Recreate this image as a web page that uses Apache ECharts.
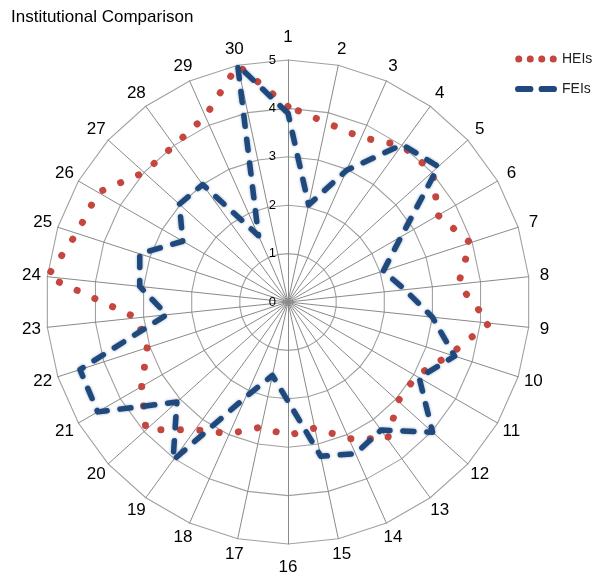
<!DOCTYPE html>
<html>
<head>
<meta charset="utf-8">
<script src="https://cdn.jsdelivr.net/npm/echarts@6/dist/echarts.min.js"></script>
<style>
html,body{margin:0;padding:0;background:#fff;}
#main{width:599px;height:577px;}
</style>
</head>
<body>
<div id="main"></div>
<script>
// Categories (clockwise from top)
var categories = ['1','2','3','4','5','6','7','8','9','10','11','12','13','14','15','16','17','18','19','20','21','22','23','24','25','26','27','28','29','30'];
var radialTicks = ['0','1','2','3','4','5'];
var seriesNames = ['HEIs','FEIs'];
var heis = [4.04,3.79,3.72,4.0,4.02,3.58,3.96,3.54,4.18,3.52,3.06,3.06,3.5,3.09,2.66,2.76,2.64,2.98,3.26,3.95,3.49,3.06,3.14,5.0,4.59,4.53,4.0,4.0,4.2,5.0];
var feis = [3.9,2.05,2.98,4.02,4.18,2.7,2.07,2.43,3.0,3.62,3.13,4.02,3.27,3.43,3.26,2.05,1.55,2.15,4.04,3.09,4.54,4.52,2.52,3.08,3.22,2.51,3.02,3.0,1.5,5.0];

// ECharts radar runs counter-clockwise; reorder so categories appear clockwise
function reorder(arr){ var out=[arr[0]]; for (var i=arr.length-1;i>=1;i--) out.push(arr[i]); return out; }
var catOrd = reorder(categories);
var heiOrd = reorder(heis);
var feiOrd = reorder(feis);

var FONT = 'Liberation Sans, Arial, sans-serif';
var NAME_SIZE = 17;
var CX = 288, CY = 302, R = 242;
var GAP = -40;

// per-label padding so each category label sits centred a fixed distance beyond its spoke end
var measureCtx = document.createElement('canvas').getContext('2d');
measureCtx.font = NAME_SIZE + 'px ' + FONT;
var rich = {};
var keyOf = {};
catOrd.forEach(function(c, i){
  var a = (90 + i * 360 / catOrd.length) * Math.PI / 180;
  var dx = Math.cos(a), dy = -Math.sin(a);
  var w = measureCtx.measureText(c).width;
  var h = NAME_SIZE;
  var vertical = Math.abs(dx) < 1e-6;
  var d = vertical ? 23 : 16;
  var pad = [0, 0, 0, 0]; // top right bottom left
  if (vertical) {
    var p = -GAP + d - h / 2;
    if (dy < 0) pad[2] = p; else pad[0] = p;
  } else {
    var ox = d * dx;
    var hp = Math.abs(ox) + (-GAP) * Math.abs(dx) - w / 2;
    if (hp < 0) hp = 0;
    if (dx > 0) pad[3] = hp; else pad[1] = hp;
    var vp = 2 * (-GAP + d) * Math.abs(dy);
    if (dy < 0) pad[2] = vp; else pad[0] = vp;
  }
  var key = 'k' + i;
  keyOf[c] = key;
  rich[key] = {padding: pad, fontSize: NAME_SIZE, fontFamily: FONT, color: '#000'};
});

var dotsIcon = 'path://M0,3.5a3.5,3.5 0 1,0 7,0a3.5,3.5 0 1,0 -7,0z' +
  'M11.5,3.5a3.5,3.5 0 1,0 7,0a3.5,3.5 0 1,0 -7,0z' +
  'M23,3.5a3.5,3.5 0 1,0 7,0a3.5,3.5 0 1,0 -7,0z' +
  'M34.5,3.5a3.5,3.5 0 1,0 7,0a3.5,3.5 0 1,0 -7,0z';
var dashIcon = 'path://M3,0h12a3,3 0 0 1 0,6h-12a3,3 0 0 1 0,-6z' +
  'M26,0h12a3,3 0 0 1 0,6h-12a3,3 0 0 1 0,-6z';

var chart = echarts.init(document.getElementById('main'), null, {renderer:'canvas'});
chart.setOption({
  animation: false,
  backgroundColor: '#fff',
  title: {
    text: 'Institutional Comparison',
    left: 6, top: 4,
    textStyle: {fontFamily: FONT, fontSize: 17, fontWeight: 'normal', color: '#000'}
  },
  legend: {
    orient: 'vertical',
    left: 510, top: 47,
    itemWidth: 42, itemHeight: 7, itemGap: 16,
    textStyle: {fontFamily: FONT, fontSize: 14, color: '#222'},
    data: [
      {name: seriesNames[0], icon: dotsIcon, itemStyle: {color: '#C4463F'}},
      {name: seriesNames[1], icon: dashIcon, itemStyle: {color: '#1F497D'}}
    ]
  },
  radar: {
    center: [CX, CY],
    radius: R,
    startAngle: 90,
    shape: 'polygon',
    splitNumber: 5,
    nameGap: GAP,
    indicator: catOrd.map(function(c){ return {name: c, min: 0, max: 5}; }),
    axisName: {
      color: '#000', fontSize: NAME_SIZE, fontFamily: FONT,
      formatter: function(name){ return '{' + keyOf[name] + '|' + name + '}'; },
      rich: rich
    },
    splitLine: {lineStyle: {color: '#a0a0a0', width: 1.1}},
    splitArea: {show: false},
    axisLine: {lineStyle: {color: '#8a8a8a', width: 1}},
    axisTick: {show: false},
    axisLabel: {show: false}
  },
  polar: {center: [CX, CY], radius: R},
  angleAxis: {type: 'value', min: 0, max: 360, startAngle: 90, show: false},
  radiusAxis: {
    type: 'value', min: 0, max: 5, interval: 1,
    axisLine: {show: false}, axisTick: {show: false}, splitLine: {show: false},
    axisLabel: {
      show: true, fontSize: 13, color: '#000', fontFamily: FONT, margin: 12,
      formatter: function(v){ return radialTicks[Math.round(v)]; }
    },
    z: 5
  },
  series: [
    {
      type: 'radar',
      name: seriesNames[0],
      symbol: 'none',
      z: 3,
      lineStyle: {color: '#C4463F', width: 7, type: [0.1, 19.4], cap: 'round'},
      itemStyle: {color: '#C4463F'},
      data: [{name: seriesNames[0], value: heiOrd}]
    },
    {
      type: 'radar',
      name: seriesNames[1],
      symbol: 'none',
      z: 4,
      lineStyle: {color: '#1F497D', width: 5.5, type: [11, 13], cap: 'round',
                  shadowBlur: 3, shadowColor: 'rgba(31,73,125,0.45)'},
      itemStyle: {color: '#1F497D'},
      data: [{name: seriesNames[1], value: feiOrd}]
    }
  ]
});
</script>
</body>
</html>
